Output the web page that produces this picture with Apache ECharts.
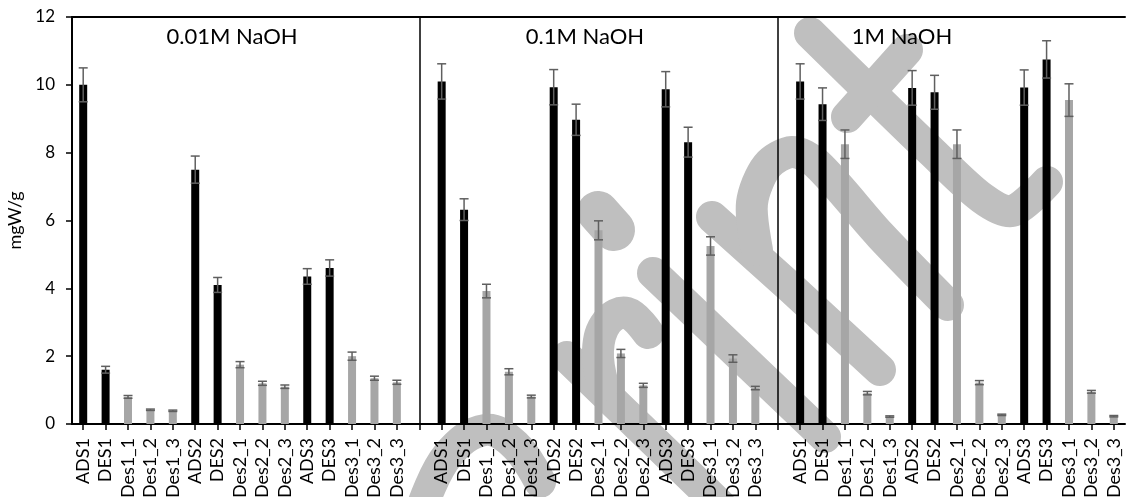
<!DOCTYPE html>
<html>
<head>
<meta charset="utf-8">
<script src="https://cdn.jsdelivr.net/npm/echarts@6/dist/echarts.min.js"></script>
<style>
  html, body { margin: 0; padding: 0; background: #fff; }
  #chart { width: 1126px; height: 497px; }
</style>
</head>
<body>
<div id="chart"></div>
<script>
// categories inside each NaOH block
var sampleNames = ['ADS1', 'DES1', 'Des1_1', 'Des1_2', 'Des1_3', 'ADS2', 'DES2', 'Des2_1', 'Des2_2', 'Des2_3', 'ADS3', 'DES3', 'Des3_1', 'Des3_2', 'Des3_3'];
var groupNames = ['0.01M NaOH', '0.1M NaOH', '1M NaOH'];

// mean values (mgW/g)
var values001 = [10.0, 1.6, 0.8, 0.42, 0.39, 7.5, 4.1, 1.75, 1.2, 1.1, 4.35, 4.6, 2.0, 1.35, 1.23];
var values01  = [10.1, 6.32, 3.92, 1.54, 0.81, 9.93, 8.97, 5.71, 2.08, 1.14, 9.87, 8.31, 5.25, 1.93, 1.06];
var values1   = [10.1, 9.43, 8.25, 0.91, 0.22, 9.91, 9.78, 8.25, 1.22, 0.27, 9.92, 10.75, 9.55, 0.95, 0.23];

// error (+/-)
var err001 = [0.5, 0.1, 0.04, 0.02, 0.02, 0.4, 0.22, 0.09, 0.06, 0.05, 0.23, 0.24, 0.12, 0.06, 0.06];
var err01  = [0.52, 0.32, 0.2, 0.09, 0.04, 0.52, 0.46, 0.28, 0.12, 0.06, 0.52, 0.44, 0.27, 0.11, 0.05];
var err1   = [0.52, 0.48, 0.42, 0.05, 0.02, 0.51, 0.5, 0.42, 0.06, 0.02, 0.52, 0.55, 0.48, 0.04, 0.02];

var yTicks = [0, 2, 4, 6, 8, 10, 12];

// build the axis: an empty slot separates the blocks
var categories = [];
var barData = [];
var errData = [];
var sepIndex = [];
[[values001, err001], [values01, err01], [values1, err1]].forEach(function (g, gi) {
  if (gi > 0) {
    sepIndex.push(categories.length);
    categories.push('');
    barData.push('-');
  }
  sampleNames.forEach(function (name, i) {
    var idx = categories.length;
    categories.push(name);
    var grey = name.indexOf('Des') === 0;
    barData.push({ value: g[0][i], itemStyle: { color: grey ? '#a6a6a6' : '#000' } });
    errData.push([idx, g[0][i] - g[1][i], g[0][i] + g[1][i]]);
  });
});

var font = 'Lato, "Noto Sans", sans-serif';

// watermark strokes behind the plot
var wm = [
  { pts: [[810, 33], [868, 90], [932, 152], [982, 198], [1012, 211], [1047, 182]], smooth: 0.3 },
  { pts: [[907, 50], [847, 117]] },
  { pts: [[712, 217], [790, 287], [880, 370]] },
  { pts: [[757, 250], [752, 203], [767, 166], [792, 152], [817, 164], [880, 235], [948, 305]], smooth: 0.3 },
  { pts: [[653, 273], [825, 437]] },
  { pts: [[567, 357], [720, 505]] },
  { pts: [[648, 333], [627, 313], [607, 322], [598, 350], [603, 385]], smooth: 0.4 },
  { pts: [[598, 212], [614, 230]], w: 42 },
  { pts: [[423, 505], [448, 455], [485, 430], [515, 445], [540, 482]], smooth: 0.4 }
];

var graphics = wm.map(function (s) {
  return {
    type: 'polyline',
    z: -1,
    silent: true,
    shape: { points: s.pts, smooth: s.smooth || 0 },
    style: { stroke: '#bfbfbf', lineWidth: s.w || 32, lineCap: 'round', lineJoin: 'round', fill: null }
  };
});
var titleX = [232, 585, 902];
groupNames.forEach(function (t, i) {
  graphics.push({
    type: 'text',
    z: 100,
    x: titleX[i],
    y: 37,
    style: { text: t, font: '22px ' + font, fill: '#000', align: 'center', verticalAlign: 'middle' }
  });
});

var chart = echarts.init(document.getElementById('chart'));

var option = {
  animation: false,
  grid: { left: 72, right: 1, top: 17, bottom: 73, outerBoundsMode: 'none' },
  xAxis: [
    {
      type: 'category',
      data: categories,
      axisLine: { lineStyle: { color: '#000', width: 2 } },
      axisTick: { show: true, alignWithLabel: true, interval: 0, length: 6, lineStyle: { color: '#000', width: 1.5 } },
      axisLabel: { interval: 0, rotate: 90, margin: 14, color: '#000', fontSize: 18, fontFamily: font }
    },
    {
      type: 'category',
      position: 'top',
      data: categories,
      axisLine: { lineStyle: { color: '#000', width: 2 } },
      axisTick: { show: false },
      axisLabel: { show: false }
    }
  ],
  yAxis: {
    type: 'value',
    min: yTicks[0],
    max: yTicks[yTicks.length - 1],
    interval: 2,
    name: 'mgW/g',
    nameLocation: 'middle',
    nameGap: 44,
    nameTextStyle: { color: '#000', fontSize: 18, fontFamily: font },
    axisLine: { show: true, lineStyle: { color: '#000', width: 2 } },
    axisTick: { show: true, length: 6, lineStyle: { color: '#000', width: 1.5 } },
    axisLabel: { margin: 17, color: '#000', fontSize: 17, fontFamily: font },
    splitLine: { show: false }
  },
  series: [
    {
      type: 'bar',
      data: barData,
      barWidth: 8,
      markLine: {
        silent: true,
        symbol: 'none',
        label: { show: false },
        lineStyle: { color: '#000', width: 1.5, type: 'solid' },
        data: sepIndex.map(function (i) { return { xAxis: i }; })
      }
    },
    {
      type: 'custom',
      data: errData,
      z: 5,
      renderItem: function (params, api) {
        var x = api.value(0);
        var lo = api.coord([x, api.value(1)]);
        var hi = api.coord([x, api.value(2)]);
        var cap = 4.5;
        var st = { stroke: '#5f5f5f', lineWidth: 1.5 };
        return {
          type: 'group',
          children: [
            { type: 'line', shape: { x1: lo[0], y1: lo[1], x2: hi[0], y2: hi[1] }, style: st },
            { type: 'line', shape: { x1: hi[0] - cap, y1: hi[1], x2: hi[0] + cap, y2: hi[1] }, style: st },
            { type: 'line', shape: { x1: lo[0] - cap, y1: lo[1], x2: lo[0] + cap, y2: lo[1] }, style: st }
          ]
        };
      }
    }
  ],
  graphic: graphics
};

chart.setOption(option);
</script>
</body>
</html>
